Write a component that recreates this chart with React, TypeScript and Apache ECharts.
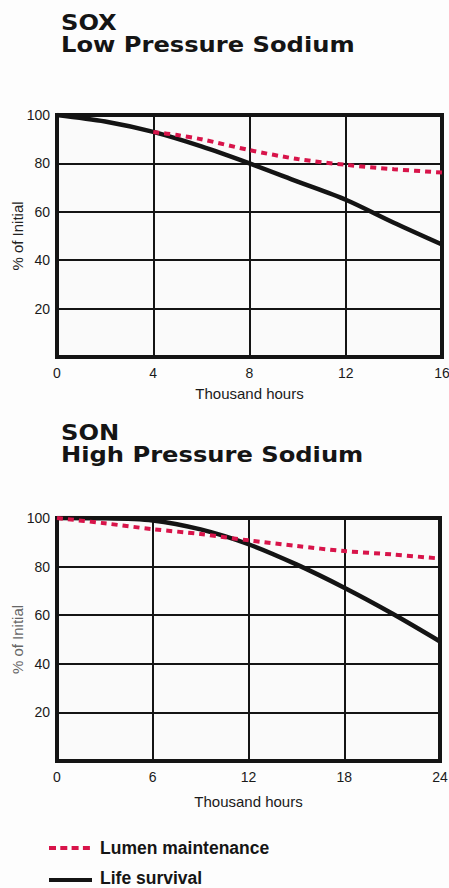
import React, { useEffect, useRef } from "react";
import * as echarts from "echarts";

const soxHours = [0, 2, 4, 6, 8, 10, 12, 14, 16];
const soxLife = [100, 97.3, 93, 87, 80, 72.5, 65, 55.5, 46.5];
const soxLumenHours = [4, 5, 6, 8, 10, 12, 14, 16];
const soxLumen = [93, 91.7, 90, 85.5, 81.8, 79.4, 77.6, 76.2];

const sonHours = [0, 3, 6, 9, 12, 15, 18, 21, 24];
const sonLife = [100, 99.9, 99, 95.3, 89.2, 80.9, 71.3, 60.7, 49.2];
const sonLumen = [100, 97.8, 95.4, 93.4, 90.8, 88.5, 86.4, 85, 83.3];

const yTicks = [0, 20, 40, 60, 80, 100];
const soxXTicks = [0, 4, 8, 12, 16];
const sonXTicks = [0, 6, 12, 18, 24];

const titles = [
  ["SOX", "Low Pressure Sodium"],
  ["SON", "High Pressure Sodium"],
];
const legendNames = ["Lumen maintenance", "Life survival"];
const yName = "% of Initial";
const xName = "Thousand hours";

const RED = "#d8144a";
const BLACK = "#141414";
const SANS = "'Liberation Sans', Arial, sans-serif";

const pair = (xs: number[], ys: number[]) => xs.map((x, i) => [x, ys[i]]);

export default function App() {
  const ref = useRef<HTMLDivElement>(null);
  useEffect(() => {
    document.body.style.margin = "0";
    const chart = echarts.init(ref.current!, null, { renderer: "svg" });
    const grids = [
      { left: 57, top: 115, width: 385, height: 242 },
      { left: 57, top: 518, width: 383, height: 243 },
    ];
    const xTicksList = [soxXTicks, sonXTicks];
    const xNameGaps = [29, 33];
    const yAxisNameColors = ["#222", "#666"];
    const mkX = (i: number) => {
      const t = xTicksList[i];
      return {
        type: "value",
        gridIndex: i,
        min: t[0],
        max: t[t.length - 1],
        interval: t[1] - t[0],
        name: xName,
        nameLocation: "middle",
        nameGap: xNameGaps[i],
        nameMoveOverlap: false,
        nameTextStyle: { fontFamily: SANS, fontSize: 15, color: "#1a1a1a" },
        axisLine: { show: false },
        axisTick: { show: false },
        axisLabel: { margin: 9, fontFamily: SANS, fontSize: 14, color: "#1a1a1a" },
        splitLine: { show: true, lineStyle: { color: BLACK, width: 2 } },
      };
    };
    const mkY = (i: number) => ({
      type: "value",
      gridIndex: i,
      min: yTicks[0],
      max: yTicks[yTicks.length - 1],
      interval: yTicks[1] - yTicks[0],
      name: yName,
      nameLocation: "middle",
      nameRotate: 90,
      nameGap: 32,
      nameMoveOverlap: false,
      nameTextStyle: { fontFamily: SANS, fontSize: 15, color: yAxisNameColors[i] },
      axisLine: { show: false },
      axisTick: { show: false },
      axisLabel: {
        margin: 7,
        fontFamily: SANS,
        fontSize: 14,
        color: "#1a1a1a",
        formatter: (v: number) => (v === 0 ? "" : String(v)),
      },
      splitLine: { show: true, lineStyle: { color: BLACK, width: 2 } },
    });
    const lifeSeries = (i: number, data: number[][]) => ({
      type: "line",
      name: legendNames[1],
      xAxisIndex: i,
      yAxisIndex: i,
      data,
      smooth: 0.3,
      symbol: "none",
      showSymbol: false,
      lineStyle: { color: BLACK, width: 4.5 },
      itemStyle: { color: BLACK },
      z: 3,
    });
    const lumenSeries = (i: number, data: number[][]) => ({
      type: "line",
      name: legendNames[0],
      xAxisIndex: i,
      yAxisIndex: i,
      data,
      smooth: 0.3,
      symbol: "none",
      showSymbol: false,
      lineStyle: { color: RED, width: 4, type: [6, 5] },
      itemStyle: { color: RED },
      z: 4,
    });
    const graphic: any[] = [];
    const titleTops = [11, 421];
    titles.forEach((t, i) => {
      graphic.push({
        type: "text",
        left: 61,
        top: titleTops[i],
        scaleX: 1.1,
        style: {
          text: t.join("\n"),
          fontFamily: "'DejaVu Sans', sans-serif",
          fontWeight: "bold",
          fontSize: 22,
          lineHeight: 22,
          fill: "#151515",
        },
      });
    });
    // legend
    const legendLineY = [848, 880];
    const legendTextY = [848, 878];
    const legendStroke = [
      { stroke: RED, lineWidth: 4, lineDash: [7, 4.3] },
      { stroke: BLACK, lineWidth: 4 },
    ];
    legendNames.forEach((n, i) => {
      graphic.push({
        type: "line",
        shape: { x1: 49, y1: legendLineY[i], x2: 92, y2: legendLineY[i] },
        style: legendStroke[i],
      });
      graphic.push({
        type: "text",
        x: 100,
        y: legendTextY[i],
        style: {
          text: n,
          fontFamily: SANS,
          fontWeight: "bold",
          fontSize: 17.5,
          fill: "#151515",
          verticalAlign: "middle",
          align: "left",
        },
      });
    });
    chart.setOption({
      animation: false,
      backgroundColor: "#fdfdfd",
      grid: grids.map((g) => ({
        ...g,
        outerBoundsMode: "none",
        containLabel: false,
        show: true,
        borderColor: BLACK,
        borderWidth: 4,
        backgroundColor: "#fafafa",
      })),
      xAxis: [mkX(0), mkX(1)],
      yAxis: [mkY(0), mkY(1)],
      graphic,
      series: [
        lifeSeries(0, pair(soxHours, soxLife)),
        lumenSeries(0, pair(soxLumenHours, soxLumen)),
        lifeSeries(1, pair(sonHours, sonLife)),
        lumenSeries(1, pair(sonHours, sonLumen)),
      ],
    });
    return () => chart.dispose();
  }, []);
  return (
    <div
      ref={ref}
      style={{ position: "absolute", left: 0, top: 0, width: 449, height: 888 }}
    />
  );
}
